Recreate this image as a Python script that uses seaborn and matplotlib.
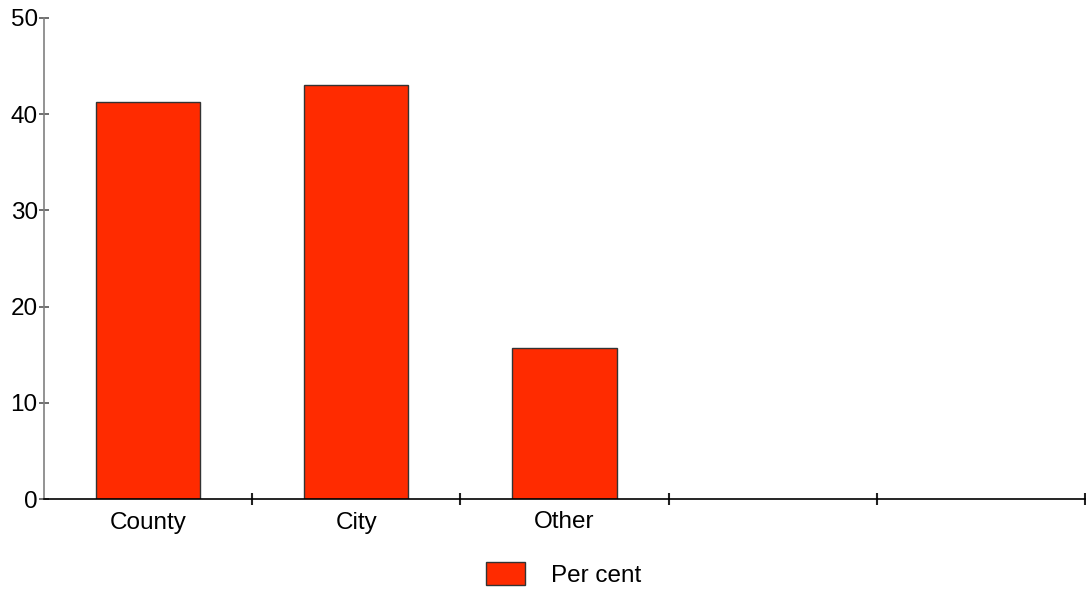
import pandas as pd
import matplotlib.pyplot as plt
import seaborn as sns

categories = ['County', 'City', 'Other', 'slot4', 'slot5']
tick_labels = ['County', 'City', 'Other', '', '']
per_cent = [41.3, 43.0, 15.7, None, None]

df = pd.DataFrame({'category': categories, 'value': per_cent}).dropna()

sns.set_style('white')
plt.rcParams['font.family'] = ['Liberation Sans', 'DejaVu Sans']
plt.rcParams['text.color'] = 'black'
plt.rcParams['xtick.labelcolor'] = 'black'
plt.rcParams['ytick.labelcolor'] = 'black'

fig = plt.figure(figsize=(10.86, 5.95), dpi=100)
ax = fig.add_axes([44 / 1086, 96 / 595, 1041 / 1086, 481 / 595])

sns.barplot(data=df, x='category', y='value', order=categories, color='#ff2b00',
            saturation=1, width=0.5, edgecolor='#333333', linewidth=1,
            label='Per cent', ax=ax)
if ax.get_legend() is not None:
    ax.get_legend().remove()

ax.set_xlim(-0.5, len(categories) - 0.5)
ax.set_ylim(0, 50)
ax.set_yticks([0, 10, 20, 30, 40, 50])
ax.set_xticks(range(len(categories)))
ax.set_xticklabels(tick_labels)
ax.set_xticks([i + 0.5 for i in range(len(categories))], minor=True)
ax.set_xlabel('')
ax.set_ylabel('')

for side in ['top', 'right']:
    ax.spines[side].set_visible(False)
ax.spines['left'].set_color('#808080')
ax.spines['left'].set_linewidth(1.2)
ax.spines['bottom'].set_color('black')
ax.spines['bottom'].set_linewidth(1.2)

ax.tick_params(axis='y', direction='inout', length=7, width=1.2, color='#555555',
               labelsize=17.5, pad=1, left=True)
ax.tick_params(axis='x', which='major', length=0, labelsize=17.5, pad=9)
ax.tick_params(axis='x', which='minor', direction='inout', length=8, width=1.5,
               color='#222222', bottom=True)

handles, labels = ax.get_legend_handles_labels()
fig.legend(handles, labels, loc='center', bbox_to_anchor=(0.519, 0.034),
           frameon=False, fontsize=17.5, handlelength=1.6, handleheight=1.05,
           handletextpad=1.05)

fig.savefig('out.png', dpi=100)
